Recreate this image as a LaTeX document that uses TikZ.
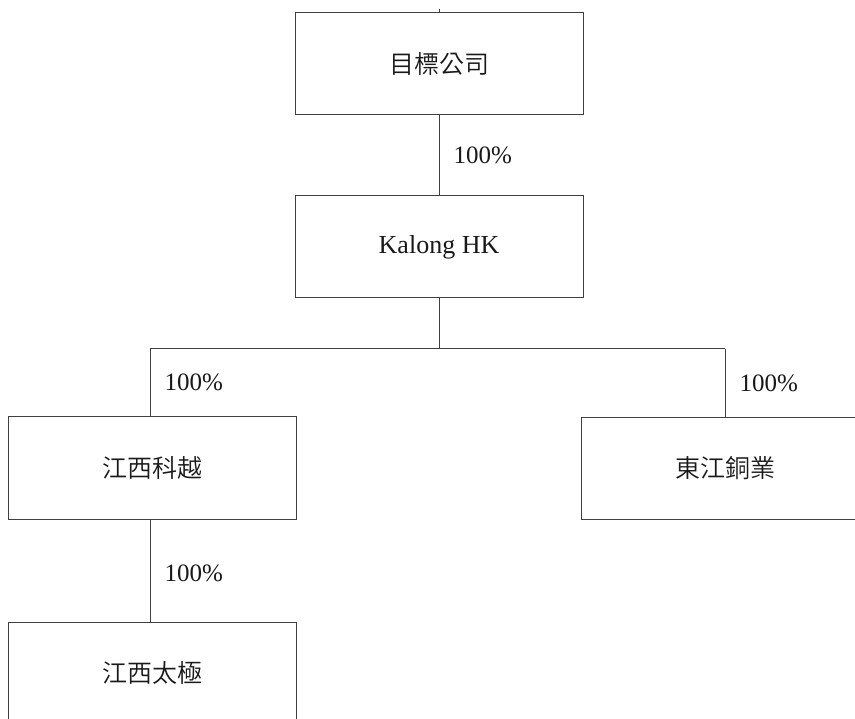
\documentclass[tikz,border=0pt]{standalone}
\usepackage{fontspec}
\setmainfont{Liberation Serif}
\newfontfamily\cjk{Noto Sans CJK TC DemiLight}
\tikzset{
  company/.style={draw=black!75, line width=1pt, minimum width=288pt, minimum height=102pt, inner sep=0pt, text=black!90, font=\cjk\fontsize{25}{25}\selectfont},
  link/.style={draw=black!75, line width=1pt},
  share/.style={right, inner sep=0pt, xshift=14pt, text=black!90, font=\fontsize{25}{25}\selectfont}
}
\begin{document}
\begin{tikzpicture}[x=1pt,y=-1pt]
    \useasboundingbox (0,0) rectangle (855,719);
    \clip (0,0) rectangle (855,719);
    % companies
    \node[company] (target) at (439,64) {目標公司};
    \node[company, font=\fontsize{26}{26}\selectfont] (kalong) at (439,247) {Kalong HK};
    \node[company] (keyue) at (152.5,468) {江西科越};
    \node[company] (dongjiang) at (725,468.5) {東江銅業};
    \node[company] (taiji) at (152.5,673) {江西太極};
    % branch points
    \coordinate (top) at (439,9);
    \coordinate (bus) at (439,349);
    \coordinate (busleft) at (150,349);
    \coordinate (busright) at (725,349);
    % holdings
    \draw[link] (top) -- (target.north);
    \draw[link] (target) -- (kalong) node[midway, share] {100\%};
    \draw[link] (kalong) -- (bus);
    \draw[link] (busleft) -- (busright);
    \draw[link] (busleft) -- (busleft |- keyue.north) node[midway, share] {100\%};
    \draw[link] (busright) -- (dongjiang.north) node[midway, share] {100\%};
    \draw[link] (keyue.south -| busleft) -- (taiji.north -| busleft) node[pos=0.53, share] {100\%};
\end{tikzpicture}
\end{document}
